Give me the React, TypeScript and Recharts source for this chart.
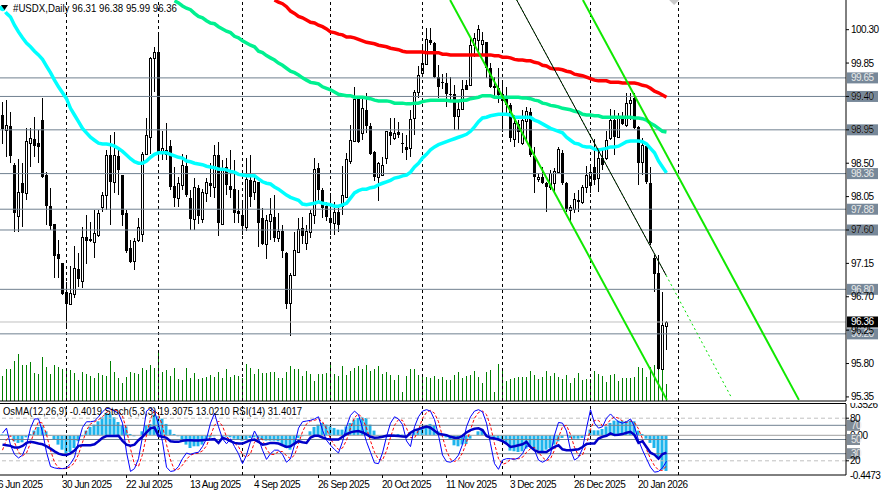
import { Bar, ComposedChart, Line, ReferenceDot, ReferenceLine, XAxis, YAxis } from 'recharts';

const WIDTH = 883;
const FONT = '"Liberation Sans", Arial, sans-serif';

const opens = [
  99.15, 98.95, 99.00, 98.48, 97.79, 98.23, 98.10, 98.77, 98.83, 98.77,
  99.08, 98.34, 97.92, 97.68, 97.28, 97.15, 96.76, 96.60, 96.74, 97.07,
  96.91, 97.51, 97.48, 97.44, 97.53, 97.91, 98.07, 98.61, 98.25, 98.60,
  98.34, 97.83, 97.36, 97.18, 97.46, 97.55, 98.62, 98.85, 99.92, 100.00,
  98.65, 98.62, 98.73, 98.19, 98.03, 98.21, 98.46, 98.03, 97.75, 98.17,
  97.75, 98.10, 98.23, 98.18, 98.61, 97.68, 98.45, 98.19, 98.15, 97.86,
  97.80, 97.64, 98.27, 98.11, 98.25, 97.76, 97.41, 97.72, 97.77, 97.49,
  97.59, 97.29, 96.62, 96.99, 97.30, 97.63, 97.42, 97.57, 97.80, 98.44,
  98.14, 97.92, 97.76, 97.69, 97.84, 97.92, 98.04, 98.53, 98.80, 99.37,
  98.91, 99.22, 99.00, 98.65, 98.31, 98.34, 98.57, 98.92, 98.84, 98.92,
  98.77, 98.72, 98.70, 99.11, 99.46, 99.72, 99.84, 100.16, 100.12, 99.66,
  99.59, 99.58, 99.43, 99.43, 99.14, 99.23, 99.55, 99.55, 100.09, 100.16,
  100.11, 100.13, 99.78, 99.54, 99.51, 99.43, 99.37, 99.28, 98.83, 99.03,
  98.77, 99.07, 99.19, 98.60, 98.29, 98.31, 98.23, 98.18, 98.23, 98.38,
  98.64, 98.23, 97.87, 97.88, 98.00, 97.98, 98.18, 98.21, 98.45, 98.30,
  98.57, 98.57, 98.84, 99.08, 98.85, 99.11, 99.01, 99.31, 99.38, 98.99,
  98.52, 98.73, 98.23, 97.22, 97.02, 95.73, 96.31,
];
const highs = [
  99.33, 99.35, 99.19, 98.50, 98.56, 98.50, 98.97, 98.97, 99.12, 98.95,
  99.38, 98.38, 98.17, 97.68, 97.46, 97.15, 96.90, 97.11, 97.38, 97.29,
  97.64, 97.80, 97.71, 97.87, 97.87, 98.11, 98.68, 98.88, 98.92, 98.68,
  98.34, 97.87, 97.46, 97.49, 97.76, 98.65, 99.11, 99.93, 100.07, 100.23,
  98.93, 99.04, 98.81, 98.45, 98.31, 98.62, 98.61, 98.14, 98.30, 98.21,
  98.15, 98.30, 98.50, 98.75, 98.79, 98.54, 98.57, 98.68, 98.54, 98.14,
  98.00, 98.57, 98.61, 98.34, 98.25, 97.90, 97.80, 98.03, 98.07, 97.83,
  97.67, 97.30, 97.02, 97.57, 97.76, 97.77, 97.67, 97.87, 98.57, 98.50,
  98.17, 97.98, 98.10, 97.98, 97.91, 98.46, 98.64, 99.02, 99.53, 99.39,
  99.39, 99.45, 99.04, 98.66, 98.52, 98.58, 98.93, 99.11, 99.11, 99.06,
  98.91, 98.88, 99.22, 99.49, 99.81, 100.07, 100.32, 100.32, 100.13, 99.82,
  99.70, 99.72, 99.66, 99.55, 99.35, 99.62, 99.62, 100.19, 100.26, 100.36,
  100.27, 100.13, 99.85, 99.66, 99.78, 99.62, 99.53, 99.31, 99.15, 99.08,
  99.22, 99.26, 99.24, 98.72, 98.37, 98.45, 98.25, 98.41, 98.44, 98.72,
  98.68, 98.25, 97.94, 98.10, 98.14, 98.21, 98.46, 98.45, 98.83, 98.70,
  98.68, 98.93, 99.23, 99.22, 99.18, 99.19, 99.45, 99.45, 99.45, 99.00,
  98.84, 98.79, 98.45, 97.26, 97.26, 96.76, 96.38,
];
const lows = [
  98.77, 98.58, 98.50, 97.57, 97.57, 97.64, 98.00, 98.44, 98.58, 98.50,
  98.30, 97.67, 97.60, 96.95, 96.95, 96.72, 96.31, 96.58, 96.68, 96.83,
  96.82, 97.14, 97.44, 97.22, 97.51, 97.84, 97.87, 97.67, 98.10, 98.07,
  97.65, 97.29, 97.15, 97.06, 97.44, 97.44, 98.61, 98.62, 99.47, 98.56,
  98.54, 98.54, 98.14, 97.91, 97.91, 98.14, 98.04, 97.60, 97.60, 97.69,
  97.69, 97.98, 98.04, 98.04, 97.52, 97.67, 98.07, 98.03, 97.69, 97.69,
  97.53, 97.59, 97.91, 98.00, 97.38, 97.40, 97.21, 97.46, 97.44, 97.44,
  97.22, 96.53, 96.17, 96.98, 97.29, 97.40, 97.33, 97.49, 97.68, 97.98,
  97.77, 97.73, 97.53, 97.53, 97.57, 97.80, 98.04, 98.50, 98.79, 98.77,
  98.81, 98.91, 98.61, 98.25, 98.00, 98.33, 98.48, 98.75, 98.81, 98.85,
  98.64, 98.54, 98.58, 98.88, 99.38, 99.66, 99.82, 100.09, 99.65, 99.38,
  99.50, 99.26, 99.35, 98.95, 98.95, 99.22, 99.49, 99.55, 99.93, 99.96,
  99.96, 99.65, 99.51, 99.39, 99.31, 98.92, 99.15, 98.79, 98.72, 98.77,
  98.75, 98.81, 98.58, 98.10, 98.25, 98.22, 97.84, 98.14, 98.10, 98.37,
  98.21, 97.84, 97.73, 97.83, 97.84, 97.96, 98.10, 98.10, 98.21, 98.11,
  98.41, 98.54, 98.81, 98.61, 98.84, 99.01, 98.99, 99.08, 98.96, 98.21,
  98.34, 98.23, 97.40, 96.76, 95.71, 95.73, 95.99,
];
const closes = [
  98.96, 99.02, 98.60, 97.83, 98.11, 98.10, 98.80, 98.84, 98.73, 98.72,
  98.31, 97.92, 97.65, 97.25, 97.21, 96.74, 96.60, 96.75, 97.09, 96.94,
  97.51, 97.45, 97.45, 97.56, 97.83, 98.07, 98.61, 98.25, 98.61, 98.41,
  97.80, 97.32, 97.17, 97.45, 97.64, 98.62, 98.88, 99.92, 100.00, 98.64,
  98.71, 98.68, 98.18, 98.03, 98.23, 98.48, 98.07, 97.75, 98.18, 97.79,
  98.11, 98.25, 98.19, 98.61, 97.69, 98.44, 98.21, 98.14, 97.83, 97.82,
  97.65, 98.29, 98.04, 98.26, 97.69, 97.41, 97.73, 97.82, 97.49, 97.59,
  97.32, 96.60, 96.99, 97.33, 97.61, 97.52, 97.59, 97.83, 98.42, 98.14,
  97.90, 97.77, 97.69, 97.84, 97.67, 98.07, 98.56, 98.81, 99.37, 98.79,
  99.24, 99.00, 98.62, 98.31, 98.50, 98.48, 98.93, 98.87, 98.91, 98.88,
  98.76, 98.68, 99.10, 99.46, 99.69, 99.85, 100.17, 100.12, 99.66, 99.53,
  99.58, 99.43, 99.42, 99.12, 99.23, 99.50, 99.49, 100.09, 100.19, 100.31,
  100.16, 99.78, 99.53, 99.51, 99.42, 99.34, 99.28, 98.84, 99.04, 98.92,
  99.08, 99.20, 98.61, 98.31, 98.31, 98.23, 98.18, 98.37, 98.39, 98.69,
  98.23, 97.88, 97.91, 98.02, 97.98, 98.18, 98.34, 98.38, 98.27, 98.57,
  98.48, 98.81, 99.08, 98.85, 99.12, 99.03, 99.31, 99.35, 98.97, 98.50,
  98.75, 98.25, 97.42, 97.01, 95.73, 96.32, 96.36,
];
const tickVolume = [
  25, 32, 32, 40, 47, 36, 36, 39, 28, 27,
  44, 34, 27, 36, 34, 32, 31, 31, 28, 21,
  29, 27, 25, 23, 28, 26, 25, 40, 29, 23,
  18, 24, 29, 28, 27, 33, 31, 36, 33, 49,
  29, 31, 25, 33, 22, 21, 33, 23, 28, 22,
  23, 24, 26, 24, 29, 23, 32, 24, 26, 25,
  23, 37, 33, 27, 32, 28, 28, 29, 29, 23,
  23, 29, 35, 32, 32, 25, 30, 27, 20, 27,
  27, 28, 36, 27, 25, 35, 26, 30, 33, 35,
  32, 36, 30, 32, 35, 27, 29, 26, 21, 26,
  9, 25, 32, 32, 26, 24, 24, 23, 25, 22,
  24, 21, 21, 26, 29, 23, 25, 26, 30, 24,
  18, 29, 31, 9, 37, 31, 20, 22, 23, 24,
  24, 24, 30, 26, 22, 24, 30, 25, 28, 24,
  22, 26, 18, 23, 28, 21, 22, 22, 30, 27,
  25, 19, 26, 27, 20, 23, 23, 23, 24, 34,
  33, 24, 34, 36, 40, 32, 17,
];
const ma50 = [
  100.59, 100.52, 100.47, 100.36, 100.27, 100.19, 100.12, 100.07, 100.01, 99.96,
  99.90, 99.81, 99.72, 99.62, 99.53, 99.45, 99.37, 99.24, 99.15, 99.06,
  98.97, 98.91, 98.85, 98.81, 98.77, 98.76, 98.76, 98.75, 98.73, 98.70,
  98.66, 98.61, 98.56, 98.52, 98.50, 98.50, 98.53, 98.58, 98.62, 98.64,
  98.64, 98.64, 98.62, 98.60, 98.58, 98.57, 98.53, 98.52, 98.50, 98.49,
  98.48, 98.46, 98.45, 98.44, 98.42, 98.42, 98.41, 98.39, 98.38, 98.35,
  98.34, 98.33, 98.33, 98.33, 98.29, 98.25, 98.23, 98.22, 98.18, 98.15,
  98.11, 98.07, 98.04, 98.02, 98.00, 97.95, 97.94, 97.95, 97.96, 97.98,
  97.96, 97.95, 97.94, 97.92, 97.92, 97.94, 97.96, 98.03, 98.10, 98.13,
  98.15, 98.15, 98.17, 98.18, 98.21, 98.23, 98.25, 98.27, 98.30, 98.31,
  98.33, 98.34, 98.38, 98.45, 98.50, 98.57, 98.62, 98.68, 98.72, 98.75,
  98.77, 98.79, 98.81, 98.83, 98.85, 98.87, 98.89, 98.93, 98.99, 99.06,
  99.11, 99.12, 99.14, 99.15, 99.16, 99.16, 99.16, 99.15, 99.12, 99.12,
  99.12, 99.12, 99.12, 99.08, 99.06, 99.03, 99.00, 98.97, 98.95, 98.93,
  98.91, 98.85, 98.81, 98.77, 98.76, 98.73, 98.72, 98.72, 98.69, 98.68,
  98.69, 98.70, 98.72, 98.72, 98.73, 98.76, 98.79, 98.80, 98.80, 98.80,
  98.79, 98.76, 98.70, 98.64, 98.53, 98.45, 98.37,
];
// ma100 and ma200 come into view later than the first bar, so they carry an offset
const ma100Start = 43;
const ma100 = [
  100.69, 100.66, 100.62, 100.59, 100.57, 100.52, 100.48,
  100.46, 100.42, 100.39, 100.38, 100.34, 100.31, 100.28, 100.26, 100.21, 100.19,
  100.15, 100.12, 100.09, 100.07, 100.01, 99.99, 99.95, 99.92, 99.89, 99.85,
  99.82, 99.78, 99.74, 99.72, 99.69, 99.65, 99.62, 99.59, 99.58, 99.57,
  99.53, 99.51, 99.49, 99.46, 99.43, 99.42, 99.41, 99.41, 99.39, 99.39,
  99.39, 99.38, 99.37, 99.35, 99.34, 99.34, 99.34, 99.33, 99.31, 99.31,
  99.31, 99.30, 99.30, 99.31, 99.31, 99.33, 99.34, 99.35, 99.35, 99.35,
  99.35, 99.35, 99.34, 99.34, 99.34, 99.35, 99.35, 99.37, 99.38, 99.39,
  99.41, 99.41, 99.41, 99.39, 99.39, 99.39, 99.39, 99.39, 99.39, 99.39,
  99.38, 99.38, 99.37, 99.35, 99.34, 99.31, 99.30, 99.28, 99.27, 99.26,
  99.24, 99.23, 99.22, 99.20, 99.19, 99.16, 99.15, 99.15, 99.14, 99.14,
  99.12, 99.12, 99.12, 99.12, 99.12, 99.12, 99.12, 99.12, 99.11, 99.11,
  99.10, 99.08, 99.04, 99.01, 98.97, 98.93, 98.92,
];
const ma200Start = 68;
const ma200 = [
  100.70, 100.67,
  100.65, 100.61, 100.55, 100.52, 100.48, 100.46, 100.43, 100.40, 100.39, 100.36,
  100.34, 100.31, 100.27, 100.26, 100.24, 100.23, 100.20, 100.20, 100.19, 100.17,
  100.15, 100.13, 100.12, 100.11, 100.09, 100.08, 100.07, 100.05, 100.04, 100.03,
  100.01, 100.00, 100.00, 100.00, 100.00, 100.00, 99.99, 99.99, 99.99, 99.99,
  99.97, 99.97, 99.96, 99.96, 99.96, 99.96, 99.96, 99.96, 99.96, 99.96,
  99.96, 99.96, 99.96, 99.95, 99.95, 99.93, 99.93, 99.92, 99.90, 99.89,
  99.89, 99.88, 99.88, 99.86, 99.85, 99.82, 99.81, 99.78, 99.77, 99.77,
  99.76, 99.74, 99.73, 99.70, 99.69, 99.68, 99.66, 99.64, 99.62, 99.61,
  99.61, 99.61, 99.59, 99.59, 99.59, 99.58, 99.58, 99.58, 99.58, 99.57,
  99.55, 99.54, 99.51, 99.47, 99.45, 99.42, 99.39,
];
const osma = [
  0.01, 0.01, -0.01, -0.068, -0.086, -0.079, -0.023, 0.015, 0.053, 0.094,
  0.10, 0.045, -0.008, -0.049, -0.105, -0.162, -0.207, -0.188, -0.143, -0.068,
  -0.011, 0.053, 0.094, 0.12, 0.158, 0.203, 0.252, 0.241, 0.203, 0.15,
  0.109, 0.10, 0.015, -0.011, 0.0, 0.045, 0.113, 0.128, 0.233, 0.214,
  0.188, 0.128, 0.064, 0.015, -0.011, -0.068, -0.105, -0.143, -0.124, -0.124,
  -0.105, -0.06, -0.023, -0.011, 0.0, -0.023, -0.015, -0.023, -0.038, -0.049,
  -0.06, -0.049, -0.03, -0.023, -0.038, -0.049, -0.06, -0.06, -0.06, -0.068,
  -0.098, -0.143, -0.162, -0.105, -0.03, -0.011, 0.0, 0.045, 0.094, 0.12,
  0.139, 0.12, 0.10, 0.083, 0.064, 0.064, 0.10, 0.139, 0.177, 0.195,
  0.203, 0.195, 0.12, 0.053, -0.011, -0.03, -0.023, -0.015, 0.008, 0.015,
  0.008, 0.0, 0.015, 0.038, 0.064, 0.083, 0.113, 0.128, 0.113, 0.045,
  -0.011, -0.023, -0.049, -0.113, -0.124, -0.105, -0.098, -0.038, 0.0, 0.045,
  0.064, 0.015, -0.011, -0.03, -0.049, -0.068, -0.086, -0.173, -0.18, -0.188,
  -0.18, -0.15, -0.124, -0.162, -0.173, -0.18, -0.162, -0.143, -0.105, -0.068,
  -0.03, 0.0, -0.03, -0.038, -0.038, -0.03, 0.0, 0.064, 0.056, 0.056,
  0.071, 0.10, 0.139, 0.165, 0.165, 0.165, 0.158, 0.165, 0.158, 0.053,
  0.015, -0.038, -0.086, -0.143, -0.256, -0.387, -0.4019,
];
const stochMain = [
  59, 66, 42, 29, 24, 28, 42, 66, 79, 79,
  61, 32, 12, 10, 9, 9, 10, 16, 25, 47,
  67, 75, 75, 76, 82, 89, 94, 93, 90, 87,
  73, 32, 5, 9, 23, 54, 90, 94, 90, 71,
  47, 11, 5, 6, 12, 23, 31, 29, 31, 32,
  40, 51, 73, 87, 68, 51, 44, 51, 40, 30,
  16, 28, 47, 62, 51, 35, 22, 30, 35, 35,
  29, 18, 23, 42, 66, 75, 76, 77, 79, 82,
  63, 49, 42, 36, 31, 47, 68, 84, 90, 85,
  66, 47, 32, 17, 16, 31, 54, 73, 82, 79,
  71, 48, 40, 68, 82, 90, 92, 90, 78, 56,
  28, 19, 18, 21, 28, 43, 68, 82, 90, 92,
  89, 73, 44, 16, 8, 21, 23, 23, 22, 24,
  30, 41, 40, 35, 21, 18, 21, 29, 56, 74,
  73, 62, 35, 21, 25, 37, 66, 92, 73, 66,
  68, 80, 86, 80, 75, 73, 75, 79, 68, 49,
  35, 23, 11, 4, 5, 10, 19.3075,
];
const stochSignal = [
  35, 50, 55, 46, 32, 27, 31, 45, 62, 75,
  73, 57, 35, 18, 10, 9, 9, 12, 17, 29,
  46, 63, 72, 75, 78, 82, 88, 92, 92, 90,
  83, 64, 37, 15, 12, 29, 56, 79, 91, 85,
  69, 43, 21, 7, 8, 14, 22, 28, 30, 31,
  34, 41, 55, 70, 76, 69, 54, 49, 45, 40,
  29, 25, 30, 46, 53, 50, 36, 29, 29, 33,
  33, 27, 23, 28, 44, 61, 72, 76, 77, 79,
  75, 65, 51, 42, 36, 38, 49, 66, 81, 86,
  80, 66, 48, 32, 22, 21, 34, 53, 70, 78,
  77, 66, 53, 52, 63, 80, 88, 91, 87, 75,
  54, 34, 22, 19, 22, 31, 46, 64, 80, 88,
  90, 85, 69, 44, 23, 15, 17, 22, 23, 23,
  25, 32, 37, 39, 32, 25, 20, 23, 35, 53,
  68, 70, 57, 39, 27, 28, 43, 65, 77, 77,
  69, 71, 78, 82, 80, 76, 74, 76, 74, 65,
  51, 36, 23, 13, 7, 6.5, 13.021,
];
const rsi = [
  42.8, 41.9, 41.0, 38.6, 38.6, 41.0, 45.2, 46.7, 45.7, 44.3,
  43.3, 40.5, 37.1, 33.3, 30.0, 28.6, 28.1, 30.5, 34.3, 41.0,
  41.9, 41.9, 41.9, 43.3, 47.6, 52.4, 54.8, 54.8, 54.8, 55.2,
  48.1, 42.8, 41.4, 42.8, 49.0, 53.8, 60.0, 65.7, 67.1, 55.2,
  53.8, 52.4, 47.6, 46.7, 46.7, 48.1, 49.0, 49.0, 48.6, 48.6,
  49.0, 49.5, 50.0, 50.5, 45.2, 52.4, 50.5, 47.6, 45.2, 44.3,
  44.3, 46.7, 49.0, 50.0, 46.7, 42.8, 43.8, 45.2, 45.2, 44.3,
  41.9, 39.5, 40.5, 44.3, 47.6, 46.2, 45.2, 52.8, 55.2, 55.2,
  52.8, 50.9, 50.0, 50.0, 50.0, 53.8, 57.6, 60.0, 61.4, 61.9,
  60.0, 57.1, 53.8, 52.4, 52.8, 53.8, 55.2, 55.7, 55.2, 54.8,
  54.3, 53.8, 59.5, 62.8, 64.7, 66.6, 68.1, 66.6, 62.4, 58.1,
  57.1, 56.2, 53.8, 52.4, 52.4, 55.2, 60.0, 63.3, 65.2, 65.7,
  63.3, 54.8, 52.4, 51.4, 50.0, 47.6, 44.3, 39.5, 40.5, 41.9,
  43.3, 46.7, 39.5, 34.8, 32.4, 32.4, 32.4, 36.2, 39.5, 41.9,
  36.2, 34.8, 34.8, 35.7, 36.2, 39.5, 43.8, 44.3, 44.3, 51.4,
  53.8, 55.2, 58.6, 56.2, 56.7, 57.6, 59.5, 60.9, 56.2, 45.2,
  47.6, 39.5, 31.4, 28.6, 22.9, 29.5, 31.4017,
];

const priceTicks = [100.3, 99.85, 99.4, 98.95, 98.5, 98.05, 97.6, 97.15, 96.7, 96.25, 95.8, 95.35];
const levelLines = [99.65, 99.4, 98.95, 98.36, 97.88, 97.6, 96.8, 96.2];
const lastPrice = 96.36;
const periodBars = [16, 39, 60, 82, 105, 125, 147, 169];
const oscLevels = [70, 50, 30];
const oscDashed = [80, 20];
const dateTicks = [-1, 15, 31, 47, 63, 79, 95, 111, 127, 143, 159];
const dateLabels = [
  '6 Jun 2025', '30 Jun 2025', '22 Jul 2025', '13 Aug 2025', '4 Sep 2025', '26 Sep 2025',
  '20 Oct 2025', '11 Nov 2025', '3 Dec 2025', '26 Dec 2025', '20 Jan 2026',
];

// trend channel, given as [bar, price] pairs
const channelLower = [[111.9, 100.7], [166.1, 95.31]];
const channelUpper = [[145.1, 100.7], [199.1, 95.31]];
const channelMid = [[128.55, 100.7], [165.9, 96.99]];
const channelMidExt = [[165.9, 96.99], [182.3, 95.335]];
const marker = [167.9, 100.7];

const priceData = opens.map((open, i) => ({
  bar: i,
  open,
  high: highs[i],
  low: lows[i],
  close: closes[i],
  range: [lows[i], highs[i]],
  ma50: ma50[i],
  ma100: i >= ma100Start ? ma100[i - ma100Start] : null,
  ma200: i >= ma200Start ? ma200[i - ma200Start] : null,
}));
const volumeData = tickVolume.map((volume, i) => ({ bar: i, volume }));
const oscData = osma.map((value, i) => ({
  bar: i,
  osma: value,
  main: stochMain[i],
  signal: stochSignal[i],
  rsi: rsi[i],
}));

const X_DOMAIN: [number, number] = [-0.625, 210.875];
const GRID = '#708090';

const toSegment = (pts: number[][]) => pts.map(([x, y]) => ({ x, y }));

function Candle(props: any) {
  const { x, y, width, height, payload } = props;
  const cx = Math.floor(x + width / 2);
  const k = payload.high > payload.low ? height / (payload.high - payload.low) : 0;
  const yOpen = y + (payload.high - payload.open) * k;
  const yClose = y + (payload.high - payload.close) * k;
  const top = Math.round(Math.min(yOpen, yClose));
  const bottom = Math.round(Math.max(yOpen, yClose));
  const up = payload.close >= payload.open;
  return (
    <g shapeRendering="crispEdges">
      <rect x={cx} y={Math.round(y)} width={1} height={Math.max(1, Math.round(height))} fill="#000" />
      {up ? (
        <rect x={cx - 0.5} y={top + 0.5} width={2} height={Math.max(1, bottom - top)} fill="#fff" stroke="#000" />
      ) : (
        <rect x={cx - 1} y={top} width={3} height={Math.max(1, bottom - top)} fill="#000" />
      )}
    </g>
  );
}

function VolumeBar(props: any) {
  const { x, y, width, height } = props;
  return <rect x={Math.floor(x + width / 2)} y={y} width={1} height={height} fill="#008000" shapeRendering="crispEdges" />;
}

function AxisText({ x, y, text, fill = '#000' }: { x: number; y: number; text: string; fill?: string }) {
  return (
    <text x={x} y={y} dy={3.5} fontSize={10} fontFamily={FONT} letterSpacing={-0.5} fill={fill}>
      {text}
    </text>
  );
}

function PriceTick(props: any) {
  const { x, y, payload } = props;
  return <AxisText x={x} y={y} text={payload.value.toFixed(2)} />;
}

function OscTick(props: any) {
  const { x, y, payload } = props;
  return <AxisText x={x} y={y} text={String(payload.value)} />;
}

function DateTick(props: any) {
  const { x, y, payload } = props;
  const label = dateLabels[dateTicks.indexOf(payload.value)];
  return (
    <text x={x - 0.5} y={y + 8} fontSize={10} fontFamily={FONT} letterSpacing={-0.5} fill="#000">
      {label}
    </text>
  );
}

const tagLabel = (text: string, bg: string, fg: string, w = 31) => (props: any) => {
  const { x, y, width } = props.viewBox;
  const left = x + width + 1;
  return (
    <g>
      <rect x={left} y={y - 5.5} width={w} height={11} fill={bg} />
      <AxisText x={left + 4} y={y} text={text} fill={fg} />
    </g>
  );
};

const plainLabel = (text: string) => (props: any) => {
  const { x, y, width } = props.viewBox;
  return <AxisText x={x + width + 4} y={y} text={text} />;
};

function PriceChart() {
  return (
    <ComposedChart width={WIDTH} height={402} data={priceData} margin={{ top: 0, right: 0, bottom: 0, left: 0 }}>
      <XAxis
        dataKey="bar"
        type="number"
        domain={X_DOMAIN}
        allowDataOverflow
        height={1}
        tick={false}
        tickLine={false}
        axisLine={{ stroke: '#000' }}
      />
      <YAxis
        orientation="right"
        width={37}
        domain={[95.295, 100.7]}
        allowDataOverflow
        ticks={priceTicks}
        interval={0}
        tickSize={3}
        tickMargin={2}
        tick={<PriceTick />}
        tickLine={{ stroke: '#000' }}
        axisLine={{ stroke: '#000' }}
      />
      {periodBars.map((x) => (
        <ReferenceLine key={x} x={x} stroke="#000" strokeDasharray="3 3" />
      ))}
      <ReferenceLine y={lastPrice} stroke="#c0c0c0" />
      {levelLines.map((y) => (
        <ReferenceLine key={y} y={y} stroke={GRID} label={tagLabel(y.toFixed(2), '#778899', '#e8e8e8')} />
      ))}
      <ReferenceLine y={lastPrice} stroke="none" label={tagLabel(lastPrice.toFixed(2), '#000', '#fff')} />
      <Bar dataKey="range" barSize={3} shape={<Candle />} isAnimationActive={false} />
      <Line dataKey="ma200" stroke="#ff0000" strokeWidth={3.5} dot={false} isAnimationActive={false} />
      <Line dataKey="ma100" stroke="#00f090" strokeWidth={3.5} dot={false} isAnimationActive={false} />
      <Line dataKey="ma50" stroke="#00ffff" strokeWidth={3.5} dot={false} isAnimationActive={false} />
      <ReferenceLine segment={toSegment(channelMid)} stroke="#00e000" strokeDasharray="2 2" />
      <ReferenceLine segment={toSegment(channelMid)} stroke="#000" />
      <ReferenceLine segment={toSegment(channelMidExt)} stroke="#00e000" strokeDasharray="2 3" />
      <ReferenceLine segment={toSegment(channelLower)} stroke="#10e800" strokeWidth={2} />
      <ReferenceLine segment={toSegment(channelUpper)} stroke="#10e800" strokeWidth={2} />
      <ReferenceDot
        x={marker[0]}
        y={marker[1]}
        ifOverflow="hidden"
        shape={(p: any) => (
          <polygon points={`${p.cx - 5},${p.cy} ${p.cx},${p.cy - 5} ${p.cx + 5},${p.cy} ${p.cx},${p.cy + 5}`} fill="#c8c8c8" />
        )}
      />
    </ComposedChart>
  );
}

function VolumeChart() {
  return (
    <ComposedChart width={WIDTH} height={402} data={volumeData} margin={{ top: 0, right: 0, bottom: 0, left: 0 }}>
      <XAxis dataKey="bar" type="number" domain={X_DOMAIN} allowDataOverflow height={1} tick={false} tickLine={false} axisLine={false} />
      <YAxis orientation="right" width={37} domain={[0, 401]} tick={false} tickLine={false} axisLine={false} />
      <Bar dataKey="volume" barSize={1} shape={<VolumeBar />} isAnimationActive={false} />
    </ComposedChart>
  );
}

function OscChart() {
  return (
    <ComposedChart width={WIDTH} height={89} data={oscData} margin={{ top: 1, right: 0, bottom: 0, left: 0 }}>
      <XAxis
        dataKey="bar"
        type="number"
        domain={X_DOMAIN}
        allowDataOverflow
        height={17}
        ticks={dateTicks}
        interval={0}
        tickSize={3}
        tick={<DateTick />}
        tickLine={{ stroke: '#000' }}
        axisLine={{ stroke: '#000' }}
      />
      <YAxis
        yAxisId="pct"
        orientation="right"
        width={37}
        domain={[0, 100]}
        ticks={oscDashed}
        interval={0}
        tickSize={3}
        tickMargin={1}
        tick={<OscTick />}
        tickLine={{ stroke: '#000' }}
        axisLine={{ stroke: '#000' }}
      />
      <YAxis yAxisId="osma" hide domain={[-0.4473, 0.3526]} allowDataOverflow />
      {periodBars.map((x) => (
        <ReferenceLine key={x} x={x} yAxisId="pct" stroke="#000" strokeDasharray="3 3" />
      ))}
      {oscDashed.map((y) => (
        <ReferenceLine key={y} y={y} yAxisId="pct" stroke="#c0c0c0" strokeDasharray="4 3" />
      ))}
      <ReferenceLine y={0.3526} yAxisId="osma" stroke="none" label={plainLabel('0.3526')} />
      <ReferenceLine y={-0.4473} yAxisId="osma" stroke="none" label={plainLabel('-0.4473')} />
      <ReferenceLine y={0} yAxisId="osma" stroke="#a0a0a0" label={plainLabel('0.00')} />
      <Bar dataKey="osma" yAxisId="osma" barSize={3} fill="#1eb4ec" isAnimationActive={false} />
      {oscLevels.map((y) => (
        <ReferenceLine key={y} y={y} yAxisId="pct" stroke={GRID} label={tagLabel(String(y), '#808b96', '#e8e8e8', 13)} />
      ))}
      <Line yAxisId="pct" dataKey="signal" stroke="#ff0000" strokeWidth={1} strokeDasharray="3 2" dot={false} isAnimationActive={false} />
      <Line yAxisId="pct" dataKey="main" stroke="#0000ff" strokeWidth={1} dot={false} isAnimationActive={false} />
      <Line yAxisId="pct" dataKey="rsi" stroke="#0000c8" strokeWidth={2.5} dot={false} isAnimationActive={false} />
    </ComposedChart>
  );
}

const layer = (top: number): React.CSSProperties => ({ position: 'absolute', left: 0, top });

export default function App() {
  return (
    <div style={{ position: 'absolute', left: 0, top: 0, width: WIDTH, height: 492, overflow: 'hidden', background: '#fff' }}>
      <div style={layer(0)}><VolumeChart /></div>
      <div style={layer(0)}><PriceChart /></div>
      <div style={{ ...layer(403), width: 846, height: 1, background: '#000' }} />
      <div style={layer(403)}><OscChart /></div>
      <svg width={WIDTH} height={492} style={{ ...layer(0), pointerEvents: 'none' }}>
        <polygon points="1,5 8,5 4.5,10" fill="#000" />
        <text x={13} y={11.5} fontSize={11} fontFamily={FONT} textLength={164} lengthAdjust="spacingAndGlyphs" fill="#000">
          #USDX,Daily  96.31 96.38 95.99 96.36
        </text>
        <text x={3} y={415} fontSize={11} fontFamily={FONT} textLength={299} lengthAdjust="spacingAndGlyphs" fill="#000">
          OsMA(12,26,9) -0.4019 Stoch(5,3,3) 19.3075 13.0210 RSI(14) 31.4017
        </text>
      </svg>
    </div>
  );
}
